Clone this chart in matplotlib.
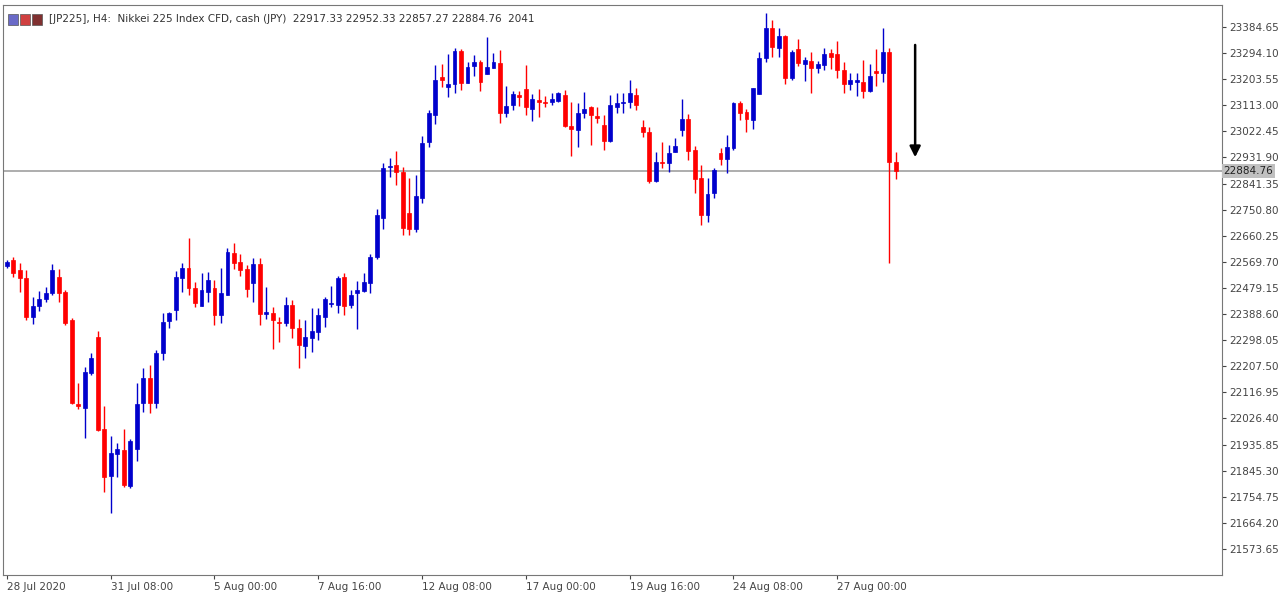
import matplotlib.pyplot as plt
import matplotlib.patches as mpatches
import numpy as np

# OHLC of JP225 H4 candles
opens = [22555, 22576, 22541, 22514, 22378, 22416, 22441, 22462, 22517, 22465,
         22368, 22076, 22062, 22184, 22309, 21990, 21827, 21903, 21917, 21792,
         21920, 22080, 22166, 22080, 22253, 22365, 22403, 22514, 22548, 22479,
         22416, 22465, 22479, 22385, 22455, 22600, 22569, 22545, 22496, 22562,
         22389, 22392, 22361, 22358, 22420, 22340, 22278, 22306, 22326, 22378,
         22424, 22420, 22517, 22420, 22462, 22469, 22496, 22586, 22722, 22899,
         22906, 22881, 22739, 22684, 22791, 22985, 23079, 23211, 23177, 23187,
         23302, 23190, 23249, 23263, 23222, 23242, 23260, 23086, 23114, 23149,
         23170, 23100, 23131, 23124, 23124, 23128, 23149, 23041, 23027, 23086,
         23107, 23076, 23045, 22989, 23107, 23121, 23124, 23149, 23037, 23020,
         22850, 22916, 22913, 22951, 23027, 23065, 22958, 22861, 22732, 22808,
         22947, 22927, 22965, 23121, 23090, 23062, 23152, 23277, 23381, 23312,
         23353, 23208, 23308, 23256, 23267, 23242, 23253, 23294, 23291, 23235,
         23187, 23194, 23194, 23163, 23232, 23225, 23298, 22917.33]
highs = [22576, 22586, 22566, 22541, 22448, 22469, 22483, 22562, 22545, 22472,
         22375, 22149, 22205, 22253, 22330, 22069, 21965, 21941, 21990, 21955,
         22149, 22201, 22212, 22264, 22392, 22396, 22538, 22566, 22652, 22500,
         22531, 22534, 22507, 22548, 22618, 22635, 22597, 22559, 22583, 22583,
         22483, 22413, 22378, 22448, 22437, 22372, 22368, 22410, 22410, 22448,
         22486, 22521, 22531, 22472, 22503, 22531, 22597, 22753, 22913, 22930,
         22954, 22899, 22861, 22871, 23006, 23096, 23253, 23256, 23291, 23312,
         23309, 23263, 23288, 23270, 23350, 23294, 23305, 23180, 23163, 23163,
         23253, 23152, 23170, 23145, 23156, 23159, 23166, 23124, 23121, 23159,
         23110, 23107, 23079, 23149, 23156, 23156, 23201, 23173, 23062, 23037,
         22951, 22985, 22975, 23000, 23135, 23083, 22972, 22906, 22861, 22895,
         22965, 23010, 23124, 23128, 23100, 23173, 23298, 23433, 23409, 23381,
         23357, 23305, 23343, 23281, 23298, 23267, 23312, 23309, 23336, 23263,
         23225, 23225, 23270, 23256, 23309, 23381, 23312, 22952.33]
lows = [22548, 22517, 22465, 22368, 22354, 22399, 22430, 22455, 22430, 22351,
        22076, 22059, 21958, 22177, 21983, 21771, 21698, 21823, 21789, 21785,
        21879, 22049, 22045, 22062, 22229, 22340, 22368, 22465, 22455, 22413,
        22416, 22430, 22351, 22358, 22455, 22545, 22521, 22448, 22430, 22351,
        22372, 22267, 22292, 22347, 22306, 22201, 22236, 22257, 22299, 22344,
        22413, 22392, 22385, 22410, 22337, 22465, 22462, 22580, 22684, 22864,
        22836, 22663, 22663, 22673, 22774, 22968, 23048, 23177, 23142, 23156,
        23166, 23190, 23215, 23163, 23222, 23242, 23051, 23072, 23096, 23110,
        23079, 23058, 23072, 23107, 23114, 23124, 23037, 22937, 22968, 23069,
        22975, 23051, 22958, 22985, 23086, 23086, 23103, 23096, 23003, 22843,
        22846, 22895, 22881, 22951, 23006, 22923, 22808, 22697, 22708, 22791,
        22906, 22878, 22958, 23062, 23020, 23031, 23152, 23263, 23281, 23281,
        23187, 23201, 23249, 23197, 23156, 23225, 23235, 23239, 23208, 23156,
        23166, 23145, 23138, 23159, 23180, 23194, 22566, 22857.27]
closes = [22569, 22531, 22514, 22378, 22416, 22441, 22462, 22541, 22462, 22358,
          22080, 22069, 22187, 22236, 21986, 21823, 21906, 21920, 21795, 21948,
          22076, 22166, 22080, 22253, 22361, 22392, 22517, 22548, 22479, 22427,
          22472, 22507, 22385, 22462, 22604, 22566, 22541, 22476, 22562, 22389,
          22396, 22368, 22358, 22420, 22340, 22281, 22309, 22330, 22385, 22441,
          22427, 22514, 22416, 22455, 22472, 22500, 22586, 22732, 22895, 22902,
          22881, 22687, 22684, 22798, 22982, 23086, 23201, 23201, 23187, 23302,
          23190, 23246, 23263, 23194, 23246, 23263, 23086, 23110, 23152, 23142,
          23107, 23135, 23124, 23121, 23135, 23156, 23041, 23031, 23086, 23100,
          23079, 23069, 22989, 23114, 23121, 23124, 23156, 23114, 23020, 22850,
          22916, 22913, 22947, 22972, 23065, 22954, 22857, 22732, 22805, 22888,
          22927, 22968, 23121, 23086, 23065, 23173, 23277, 23381, 23315, 23353,
          23208, 23298, 23260, 23270, 23242, 23256, 23291, 23281, 23235, 23187,
          23201, 23201, 23163, 23215, 23225, 23298, 22916, 22884.76]

last_price = 22884.76
y_ticks = [23384.65 - 90.55 * k for k in range(21)]
x_tick_pos = [0, 16, 32, 48, 64, 80, 96, 112, 128]
x_tick_labels = ["28 Jul 2020", "31 Jul 08:00", "5 Aug 00:00", "7 Aug 16:00", "12 Aug 08:00",
                 "17 Aug 00:00", "19 Aug 16:00", "24 Aug 08:00", "27 Aug 00:00"]

bull = "#0000CC"
bear = "#FF0000"

fig = plt.figure(figsize=(12.8, 5.94), dpi=100)
ax = fig.add_axes([3 / 1280, 19 / 594, 1219 / 1280, 570 / 594])

for i, (o, h, l, c) in enumerate(zip(opens, highs, lows, closes)):
    col = bull if c >= o else bear
    ax.vlines(i, l, h, color=col, linewidth=1, zorder=2)
    lo, hi = min(o, c), max(o, c)
    if hi - lo < 3:
        lo, hi = lo - 1.5, hi + 1.5
    ax.add_patch(mpatches.Rectangle((i - 0.3, lo), 0.6, hi - lo, facecolor=col, edgecolor=col,
                                    linewidth=0.5, zorder=3))

ax.axhline(last_price, color="#A0A0A0", linewidth=1.2, zorder=1)

# down arrow annotation
ax.annotate("", xy=(140, 22923), xytext=(140, 23332),
            arrowprops=dict(arrowstyle="-|>", color="black", lw=1.8, mutation_scale=16))

ax.set_xlim(-0.6, 187.3)
ax.set_ylim(21483, 23461)

ax.yaxis.tick_right()
ax.set_yticks(y_ticks)
ax.set_yticklabels([f"{v:.2f}" for v in y_ticks])
ax.tick_params(axis="y", labelsize=7.5, colors="#444444", length=3, pad=2)
ax.set_xticks(x_tick_pos)
ax.set_xticklabels(x_tick_labels, ha="left")
ax.tick_params(axis="x", labelsize=7.5, colors="#444444", length=3, pad=2)
for s in ax.spines.values():
    s.set_color("#777777")
    s.set_linewidth(0.8)

ax.text(1.001, last_price, f"{last_price:.2f}", transform=ax.get_yaxis_transform(),
        fontsize=7.5, color="#222222", va="center", ha="left",
        bbox=dict(boxstyle="square,pad=0.15", facecolor="#C0C0C0", edgecolor="none"))

ax.text(0.038, 0.985, "[JP225], H4:  Nikkei 225 Index CFD, cash (JPY)  22917.33 22952.33 22857.27 22884.76  2041",
        transform=ax.transAxes, fontsize=7.5, color="#333333", va="top", ha="left")
for k, c in enumerate(["#6A6AC8", "#D04040", "#803030"]):
    ax.add_patch(mpatches.Rectangle((0.004 + k * 0.01, 0.965), 0.008, 0.02, transform=ax.transAxes,
                                    facecolor=c, edgecolor="#555555", linewidth=0.5))

fig.savefig("out.png", dpi=100)
